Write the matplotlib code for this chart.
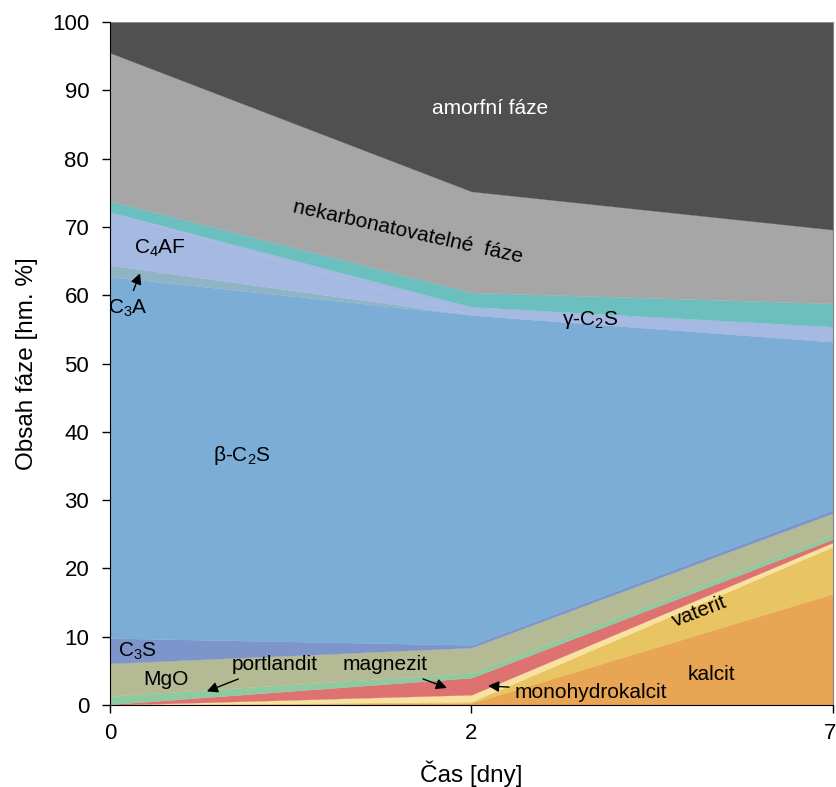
import matplotlib
matplotlib.use("Agg")
import matplotlib.pyplot as plt
import matplotlib.transforms as mtransforms
import numpy as np

# časy (kategorie na ose x) a obsahy fází v hm. %
casy = ["0", "2", "7"]
kalcit = [0.0, 0.3, 16.3]
vaterit = [0.0, 0.2, 6.9]
monohydrokalcit = [0.0, 1.0, 0.6]
magnezit = [0.1, 2.5, 0.5]
portlandit = [1.2, 0.7, 0.6]
mgo = [4.8, 3.7, 3.2]
c3s = [3.7, 0.4, 0.5]
beta_c2s = [52.9, 48.3, 24.6]
c3a = [1.7, 0.0, 0.0]
c4af = [7.8, 0.0, 0.0]
gama_c2s = [0.0, 1.2, 2.2]
ostatni = [1.6, 2.1, 3.4]
nekarbonatovatelne = [21.7, 14.8, 10.8]
amorfni = [4.5, 24.8, 30.4]

barvy = ["#E8A553", "#E8C463", "#F7E2A0", "#DE7271", "#8FC9A0", "#B4BB94",
         "#7E95CB", "#7BADD6", "#8FB4C5", "#A5B9E2", "#A5B9E2", "#6CBFBF",
         "#A6A6A6", "#505050"]

plt.rcParams["font.family"] = ["Liberation Sans", "DejaVu Sans"]
plt.rcParams["mathtext.default"] = "regular"

fig = plt.figure(figsize=(8.37, 7.87), dpi=100)
ax = fig.add_axes([0.1314, 0.1042, 0.8638, 0.8678])

x = np.arange(len(casy))
vrstvy = ax.stackplot(x, kalcit, vaterit, monohydrokalcit, magnezit, portlandit, mgo,
                      c3s, beta_c2s, c3a, c4af, gama_c2s, ostatni,
                      nekarbonatovatelne, amorfni, colors=barvy)
for v, b in zip(vrstvy, barvy):
    v.set_edgecolor(b)   # schovat světlé švy mezi vrstvami
    v.set_linewidth(0.2)

ax.set_xlim(0, 2)
ax.set_ylim(0, 100)
ax.set_xticks(x)
ax.set_xticklabels(casy)
ax.set_yticks(range(0, 101, 10))
ax.tick_params(labelsize=16, length=6, width=1, direction="out")
ax.tick_params(axis="y", pad=9)
ax.tick_params(axis="x", pad=7)
# poslední popisek "7" posunout, aby se vešel do obrázku
posun = mtransforms.ScaledTranslation(3 / 100, 0, fig.dpi_scale_trans)
posledni = ax.get_xticklabels()[-1]
posledni.set_ha("right")
posledni.set_transform(posledni.get_transform() + posun)

ax.spines["top"].set_visible(False)
ax.spines["right"].set_color("#808080")
ax.set_xlabel("Čas [dny]", fontsize=17.5, labelpad=12)
ax.set_ylabel("Obsah fáze [hm. %]", fontsize=17.5, labelpad=10)

fs = 15
sipka = dict(arrowstyle="-|>", color="black", lw=1, mutation_scale=16)
ax.text(1.051, 87.4, "amorfní fáze", color="white", fontsize=fs, ha="center", va="center")
ax.text(0.824, 69.3, "nekarbonatovatelné  fáze", fontsize=fs, ha="center",
        va="center", rotation=-12.5, rotation_mode="anchor")
ax.text(0.138, 66.9, "C$_4$AF", fontsize=fs, ha="center", va="center")
ax.text(0.05, 58.1, "C$_3$A", fontsize=fs, ha="center", va="center")
ax.annotate("", xy=(0.086, 63.6), xytext=(0.062, 60.3), arrowprops=sipka)
ax.text(1.328, 56.4, "γ-C$_2$S", fontsize=fs, ha="center", va="center")
ax.text(0.365, 36.6, "β-C$_2$S", fontsize=fs, ha="center", va="center")
ax.text(0.077, 7.8, "C$_3$S", fontsize=fs, ha="center", va="center")
ax.text(0.155, 3.7, "MgO", fontsize=fs, ha="center", va="center")
ax.annotate("portlandit", xy=(0.268, 2.0), xytext=(0.456, 5.9), fontsize=fs,
            ha="center", va="center",
            arrowprops=dict(sipka, shrinkA=4, shrinkB=0))
ax.annotate("magnezit", xy=(0.932, 2.5), xytext=(0.761, 5.9), fontsize=fs,
            ha="center", va="center",
            arrowprops=dict(sipka, shrinkA=4, shrinkB=0))
ax.annotate("monohydrokalcit", xy=(1.046, 2.8), xytext=(1.33, 1.9), fontsize=fs,
            ha="center", va="center",
            arrowprops=dict(sipka, shrinkA=2, shrinkB=0))
ax.text(1.632, 13.6, "vaterit", fontsize=fs, ha="center", va="center", rotation=21)
ax.text(1.663, 4.4, "kalcit", fontsize=fs, ha="center", va="center")

fig.savefig("out.png", dpi=100)
